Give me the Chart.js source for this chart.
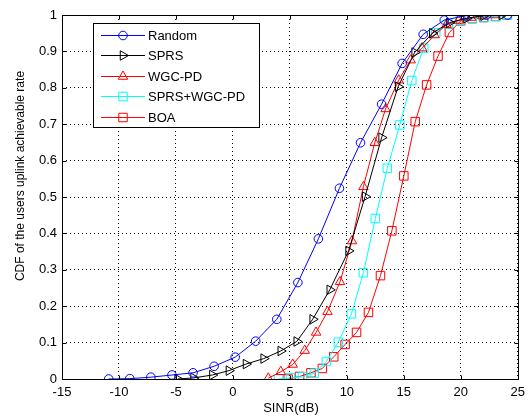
<!DOCTYPE html>
<html>
<head>
<meta charset="utf-8">
<script src="https://cdn.jsdelivr.net/npm/chart.js@4.4.1/dist/chart.umd.min.js"></script>
<style>
  html, body { margin:0; padding:0; background:#fff; }
  #wrap { width:531px; height:416px; }
</style>
</head>
<body>
<div id="wrap"><canvas id="cdfChart" width="531" height="416"></canvas></div>
<script>
// ---------- ADATOK ----------
const randomX = [-10.9, -9.05, -7.2, -5.35, -3.5, -1.65, 0.2, 2.0, 3.85, 5.7, 7.5, 9.35, 11.2, 13.05, 14.85, 16.7, 18.55, 20.4, 22.25, 24.1];
const randomY = [0, 0.001, 0.005, 0.011, 0.017, 0.035, 0.06, 0.104, 0.164, 0.265, 0.385, 0.524, 0.649, 0.755, 0.867, 0.947, 0.986, 0.998, 1, 1];

const sprsX = [-4.85, -3.45, -1.8, -0.35, 1.15, 2.7, 4.2, 5.6, 7.0, 8.5, 10.15, 11.6, 13.05, 14.5, 15.95, 17.5, 19.0, 20.5, 22.0, 23.6];
const sprsY = [0, 0.003, 0.011, 0.023, 0.041, 0.056, 0.077, 0.103, 0.164, 0.245, 0.352, 0.501, 0.663, 0.803, 0.897, 0.95, 0.979, 0.991, 0.998, 1];

const wgcX = [3.1, 4.2, 5.25, 6.3, 7.3, 8.3, 9.4, 10.45, 11.45, 12.45, 13.4, 14.55, 15.6, 16.6, 17.7, 18.75, 19.8, 20.9, 21.9, 23.0];
const wgcY = [0.002, 0.02, 0.04, 0.078, 0.128, 0.185, 0.267, 0.379, 0.528, 0.649, 0.742, 0.821, 0.876, 0.909, 0.945, 0.973, 0.985, 0.993, 0.997, 1];

const sprsWgcX = [4.0, 5.05, 6.1, 7.15, 8.2, 9.25, 10.4, 11.45, 12.5, 13.55, 14.65, 15.7, 16.75, 17.8, 18.9, 19.95, 21.0, 22.05, 23.1, 24.1];
const sprsWgcY = [0, 0.003, 0.006, 0.016, 0.048, 0.101, 0.179, 0.292, 0.441, 0.579, 0.698, 0.82, 0.909, 0.951, 0.975, 0.985, 0.99, 0.993, 0.996, 1];

const boaX = [4.85, 5.85, 6.85, 7.85, 8.85, 9.85, 10.85, 11.9, 12.95, 13.95, 15.0, 16.0, 17.0, 18.0, 19.0, 20.0, 21.0, 22.0, 23.05, 24.05];
const boaY = [0, 0.007, 0.017, 0.029, 0.061, 0.095, 0.128, 0.183, 0.284, 0.407, 0.558, 0.707, 0.808, 0.887, 0.952, 0.984, 0.99, 0.993, 0.996, 1];

const xTicks = [-15, -10, -5, 0, 5, 10, 15, 20, 25];
const yTicks = [0, 0.1, 0.2, 0.3, 0.4, 0.5, 0.6, 0.7, 0.8, 0.9, 1];

const xCim = 'SINR(dB)';
const yCim = 'CDF of the users uplink achievable rate';

// ---------- SOROZATOK ----------
function pontok(xs, ys){
  return xs.map((x, i) => ({ x: x, y: ys[i] }));
}

const sorozatok = [
  { nev:'Random',        xs: randomX,   ys: randomY,   szin:'#0000ff', stilus:'circle',   forgatas:0,  r:4.3 },
  { nev:'SPRS',          xs: sprsX,     ys: sprsY,     szin:'#000000', stilus:'triangle', forgatas:90, r:5.5 },
  { nev:'WGC-PD',        xs: wgcX,      ys: wgcY,      szin:'#ff0000', stilus:'triangle', forgatas:0,  r:5.5 },
  { nev:'SPRS+WGC-PD',   xs: sprsWgcX,  ys: sprsWgcY,  szin:'#00ffff', stilus:'rect',     forgatas:0,  r:6 },
  { nev:'BOA',           xs: boaX,      ys: boaY,      szin:'#ff0000', stilus:'rect',     forgatas:0,  r:6 }
];

const betu = 'Arial, "Liberation Sans", Helvetica, sans-serif';
Chart.defaults.font.family = betu;
Chart.defaults.font.size = 13;
Chart.defaults.color = '#000';

// ---------- SAJÁT RAJZOLÁS: keret, befelé álló tickek, tengelycím, jelmagyarázat ----------
function jelRajz(ctx, stilus, forgatas, x, y, r){
  ctx.beginPath();
  if(stilus === 'circle'){
    ctx.arc(x, y, r, 0, Math.PI * 2);
  } else if(stilus === 'rect'){
    const s = r * Math.SQRT1_2;
    ctx.rect(x - s, y - s, 2 * s, 2 * s);
  } else {
    const a = forgatas * Math.PI / 180;
    for(let k = 0; k < 3; k++){
      const b = a + k * 2 * Math.PI / 3;
      const px = x + Math.sin(b) * r, py = y - Math.cos(b) * r;
      if(k === 0) ctx.moveTo(px, py); else ctx.lineTo(px, py);
    }
    ctx.closePath();
  }
  ctx.stroke();
}

const keretPlugin = {
  id:'keret',
  afterDraw(chart){
    const ctx = chart.ctx;
    const a = chart.chartArea;
    const sx = chart.scales.x, sy = chart.scales.y;
    const L = Math.round(a.left) + 0.5, R = Math.round(a.right) + 0.5;
    const T = Math.round(a.top) + 0.5, B = Math.round(a.bottom) + 0.5;
    ctx.save();
    ctx.strokeStyle = '#000';
    ctx.lineWidth = 1;
    ctx.setLineDash([]);
    ctx.strokeRect(L, T, R - L, B - T);

    // befelé mutató tickek mind a négy oldalon
    const hossz = 4;
    ctx.beginPath();
    xTicks.forEach(v => {
      const px = Math.round(sx.getPixelForValue(v)) + 0.5;
      ctx.moveTo(px, B); ctx.lineTo(px, B - hossz);
      ctx.moveTo(px, T); ctx.lineTo(px, T + hossz);
    });
    yTicks.forEach(v => {
      const py = Math.round(sy.getPixelForValue(v)) + 0.5;
      ctx.moveTo(L, py); ctx.lineTo(L + hossz, py);
      ctx.moveTo(R, py); ctx.lineTo(R - hossz, py);
    });
    ctx.stroke();

    // tengelycímek
    ctx.fillStyle = '#000';
    ctx.textAlign = 'center';
    ctx.textBaseline = 'middle';
    ctx.font = '13px ' + betu;
    ctx.fillText(xCim, 291, 408);
    ctx.save();
    ctx.translate(21, 176);
    ctx.rotate(-Math.PI / 2);
    ctx.font = '12px ' + betu;
    ctx.fillText(yCim, 0, 0);
    ctx.restore();

    // jelmagyarázat
    const bx = 93.5, by = 23.5, bw = 166, bh = 104;
    ctx.fillStyle = '#fff';
    ctx.fillRect(bx, by, bw, bh);
    ctx.strokeStyle = '#000';
    ctx.strokeRect(bx, by, bw, bh);
    ctx.font = '13px ' + betu;
    ctx.textAlign = 'left';
    sorozatok.forEach((s, i) => {
      const yy = Math.round(35 + i * 20.4) + 0.5;
      ctx.strokeStyle = s.szin;
      ctx.beginPath();
      ctx.moveTo(101, yy); ctx.lineTo(145, yy);
      ctx.stroke();
      jelRajz(ctx, s.stilus, s.forgatas, 123, yy, s.r);
      ctx.fillStyle = '#000';
      ctx.fillText(s.nev, 148, yy + 1);
    });
    ctx.restore();
  }
};

// ---------- GRAFIKON ----------
const grafikon = new Chart(document.getElementById('cdfChart').getContext('2d'), {
  type:'scatter',
  data:{
    datasets: sorozatok.map(s => ({
      label: s.nev,
      data: pontok(s.xs, s.ys),
      showLine:true,
      borderColor: s.szin,
      borderWidth:1,
      pointStyle: s.stilus,
      rotation: s.forgatas,
      pointRadius: s.r,
      pointHoverRadius: s.r,
      pointBorderColor: s.szin,
      pointBackgroundColor:'rgba(0,0,0,0)',
      pointBorderWidth:1,
      tension:0
    }))
  },
  options:{
    responsive:false,
    animation:false,
    layout:{ padding:{ top:15, right:7, bottom:0, left:0 } },
    plugins:{ legend:{ display:false }, tooltip:{ enabled:false } },
    scales:{
      x:{
        type:'linear', min:-15, max:25,
        afterBuildTicks: (sc) => { sc.ticks = xTicks.map(v => ({ value:v })); },
        afterFit: (sc) => { sc.height = 37; },
        grid:{ color:'#000', lineWidth:1, drawTicks:false },
        border:{ display:false, dash:[1,3] },
        ticks:{ padding:6, maxRotation:0, color:'#000', font:{ size:13 } }
      },
      y:{
        type:'linear', min:0, max:1,
        afterBuildTicks: (sc) => { sc.ticks = yTicks.map(v => ({ value:v })); },
        afterFit: (sc) => { sc.width = 62; },
        grid:{ color:'#000', lineWidth:1, drawTicks:false },
        border:{ display:false, dash:[1,3] },
        ticks:{ padding:5, color:'#000', font:{ size:13 },
          callback: (v) => String(Number(v.toFixed(1))) }
      }
    }
  },
  plugins:[keretPlugin]
});
</script>
</body>
</html>
